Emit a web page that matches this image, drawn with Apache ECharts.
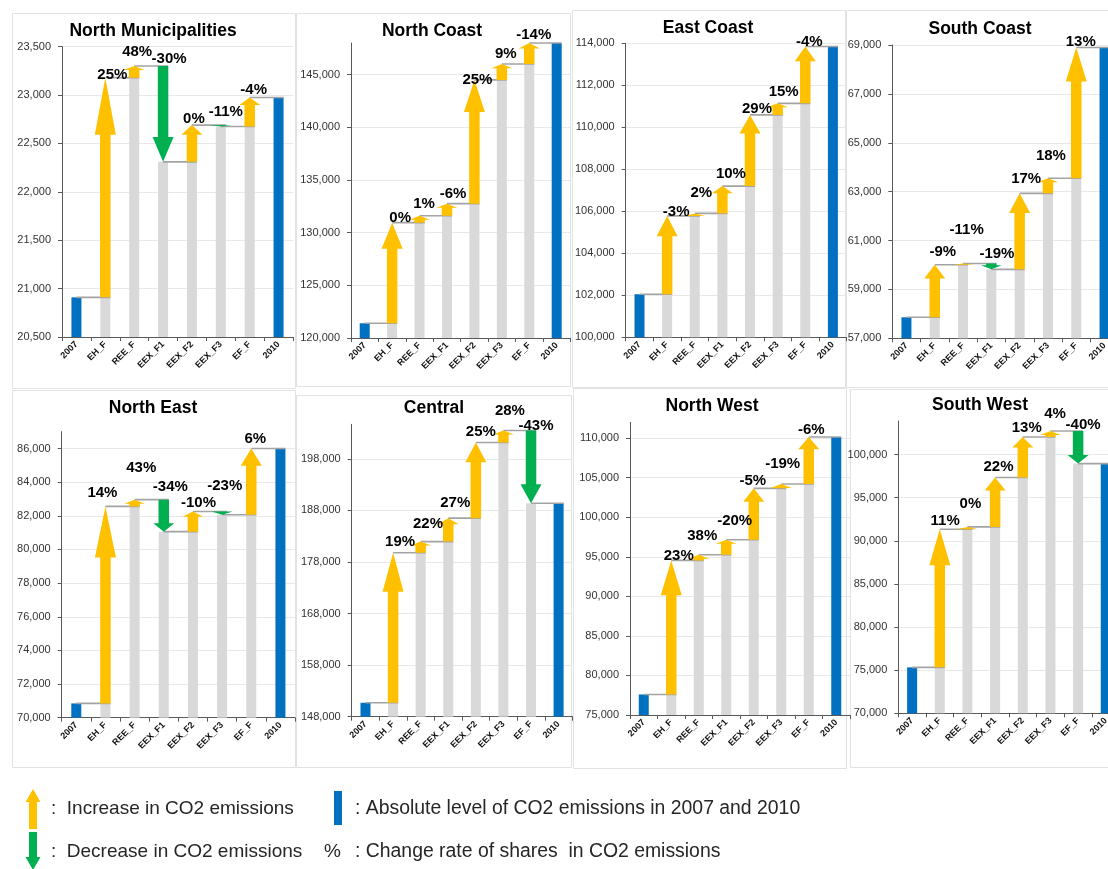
<!DOCTYPE html>
<html>
<head>
<meta charset="utf-8">
<title>CO2 emissions decomposition by region, 2007-2010</title>
<script src="https://cdn.jsdelivr.net/npm/echarts@6/dist/echarts.min.js"></script>
<style>
  html, body { margin: 0; padding: 0; background: #ffffff; overflow: hidden; }
  #chart { width: 1108px; height: 869px; }
</style>
</head>
<body>
<div id="chart"></div>
<script>
// Factor steps between the 2007 and 2010 totals
const categories = ['2007', 'EH_F', 'REE_F', 'EEX_F1', 'EEX_F2', 'EEX_F3', 'EF_F', '2010'];

const regionNames = ['North Municipalities', 'North Coast', 'East Coast', 'South Coast',
                     'North East', 'Central', 'North West', 'South West'];

// Emission level after each step (2007, after each factor, 2010)
const northMunicipalities = [20910, 23180, 23300, 22310, 22690, 22675, 22975, 22975];
const northCoast          = [121400, 130950, 131600, 132750, 144500, 146000, 148000, 148000];
const eastCoast           = [102050, 105780, 105900, 107200, 110590, 111140, 113850, 113850];
const southCoast          = [57860, 60010, 60060, 59820, 62930, 63550, 68900, 68900];
const northEast           = [70850, 82560, 82960, 81060, 82260, 82060, 86000, 86000];
const central             = [150700, 179800, 181950, 186500, 201170, 203500, 189400, 189400];
const northWest           = [77600, 94540, 95250, 97150, 103650, 104200, 110150, 110150];
const southWest           = [75330, 91350, 91620, 97340, 102050, 102740, 98960, 98960];

// Change rate of shares for each factor step
const northMunicipalitiesRates = ['25%', '48%', '-30%', '0%', '-11%', '-4%'];
const northCoastRates          = ['0%', '1%', '-6%', '25%', '9%', '-14%'];
const eastCoastRates           = ['-3%', '2%', '10%', '29%', '15%', '-4%'];
const southCoastRates          = ['-9%', '-11%', '-19%', '17%', '18%', '13%'];
const northEastRates           = ['14%', '43%', '-34%', '-10%', '-23%', '6%'];
const centralRates             = ['19%', '22%', '27%', '25%', '28%', '-43%'];
const northWestRates           = ['23%', '38%', '-20%', '-5%', '-19%', '-6%'];
const southWestRates           = ['11%', '0%', '22%', '13%', '4%', '-40%'];

// Value axis scale per region: [min, max, tick step]
const northMunicipalitiesAxis = [20500, 23500, 500];
const northCoastAxis          = [120000, 148000, 5000];
const eastCoastAxis           = [100000, 114000, 2000];
const southCoastAxis          = [57000, 69000, 2000];
const northEastAxis           = [70000, 87000, 2000];
const centralAxis             = [148000, 204700, 10000];
const northWestAxis           = [75000, 112000, 5000];
const southWestAxis           = [70000, 103900, 5000];

const levelsList = [northMunicipalities, northCoast, eastCoast, southCoast,
                    northEast, central, northWest, southWest];
const ratesList = [northMunicipalitiesRates, northCoastRates, eastCoastRates, southCoastRates,
                   northEastRates, centralRates, northWestRates, southWestRates];
const axisList = [northMunicipalitiesAxis, northCoastAxis, eastCoastAxis, southCoastAxis,
                  northEastAxis, centralAxis, northWestAxis, southWestAxis];

// ---- Layout (pixels) ----
// grid: [left, top, width, height]; the right column runs past the page edge
const panelLayout = [
  { grid: [62.0, 46.7, 231.0, 290.3], title: [153, 31], frame: [12, 13, 283, 375] },
  { grid: [351.0, 43.0, 219.4, 295.0], title: [432, 31], frame: [296, 13, 274, 373] },
  { grid: [625.7, 43.3, 221.0, 294.0], title: [708, 28], frame: [572, 10, 273, 377] },
  { grid: [892.3, 45.0, 226.4, 293.3], title: [980, 29], frame: [846, 10, 270, 377] },
  { grid: [61.7, 431.7, 233.3, 286.0], title: [153, 408], frame: [12, 390, 283, 377] },
  { grid: [351.7, 424.3, 220.7, 292.4], title: [434, 408], frame: [296, 395, 275, 372] },
  { grid: [630.0, 422.3, 220.0, 292.7], title: [712, 406], frame: [573, 388, 273, 380] },
  { grid: [898.3, 421.0, 221.3, 292.3], title: [980, 405], frame: [850, 389, 265, 378] }
];

// Rate label nudges [dx, lift] relative to the top of each step
const labelNudge = [
  [[7, 3], [3, 14.5], [6, 7.5], [2, 6], [5, 13.5], [4, 8]],
  [[8, 5], [4.5, 12], [6, 10], [3, 0], [4, 10], [4.5, 8.5]],
  [[9, 4.5], [6.5, 21], [8.5, 12], [7, 6], [6, 12], [4, 5]],
  [[8, 13], [3.6, 33.5], [5.6, 9.5], [6.5, 15], [3, 22], [4.5, 5.5]],
  [[-3, 14], [6.6, 32], [6.6, 13], [5.6, 9], [2.7, 26], [4, 10]],
  [[7, 11], [7.3, 18], [7, 15], [5, 11], [6.5, 20], [5, 5]],
  [[7.5, 4.5], [3.5, 19], [8.4, 18.7], [-1, 7], [1.4, 20.5], [2.5, 7]],
  [[5.4, 8], [3, 23.4], [3.4, 10.5], [4, 9], [4.6, 17.3], [5, 6.4]]
];

const COLOR_TOTAL = '#0070c0';
const COLOR_BASE = '#d9d9d9';
const COLOR_UP = '#ffc000';
const COLOR_DOWN = '#00b050';
const COLOR_LINK = '#a3a3a3';
const FONT = '"Liberation Sans", Arial, Helvetica, sans-serif';
const BAR_W = 10;

const grids = [], xAxes = [], yAxes = [], series = [], graphics = [];

levelsList.forEach(function (levels, p) {
  const lay = panelLayout[p];
  const ax = axisList[p];
  const rates = ratesList[p];
  const nudges = labelNudge[p];
  const aligned = (ax[1] - ax[0]) % ax[2] === 0;

  grids.push({ left: lay.grid[0], top: lay.grid[1], width: lay.grid[2], height: lay.grid[3],
               outerBoundsMode: 'none', containLabel: false });

  xAxes.push({
    type: 'category', gridIndex: p, data: categories, boundaryGap: true,
    axisLine: { lineStyle: { color: '#595959', width: 1 } },
    axisTick: { show: true, length: 4, lineStyle: { color: '#595959' } },
    axisLabel: { rotate: 45, interval: 0, margin: 6, color: '#111', fontSize: 9,
                 fontWeight: 'bold', fontFamily: FONT }
  });

  yAxes.push({
    type: 'value', gridIndex: p, min: ax[0], max: ax[1], interval: ax[2],
    axisLine: { show: true, lineStyle: { color: '#595959', width: 1 } },
    axisTick: { show: true, length: 4, lineStyle: { color: '#595959' } },
    splitLine: { show: true, showMaxLine: aligned, lineStyle: { color: '#e8e8e8', width: 1 } },
    axisLabel: {
      color: '#333', fontSize: 11, fontFamily: FONT, margin: 11, showMaxLabel: aligned,
      formatter: function (v) {
        return (v - ax[0]) % ax[2] === 0 ? v.toLocaleString('en-US') : '';
      }
    }
  });

  // Base bars: totals in blue, the unchanged part of each step in grey
  const barData = levels.map(function (v, i) {
    if (i === 0 || i === levels.length - 1) {
      return { value: v, itemStyle: { color: COLOR_TOTAL } };
    }
    return { value: Math.min(levels[i - 1], v), itemStyle: { color: COLOR_BASE } };
  });
  series.push({
    type: 'bar', xAxisIndex: p, yAxisIndex: p, data: barData,
    barWidth: BAR_W, z: 2, silent: true, animation: false
  });

  // Connector lines carrying each level over to the next column
  const linkData = [];
  for (let i = 0; i < levels.length - 1; i++) linkData.push([i, levels[i]]);
  series.push({
    type: 'custom', xAxisIndex: p, yAxisIndex: p, data: linkData, z: 3,
    silent: true, animation: false,
    encode: { x: 0, y: 1 },
    renderItem: function (params, api) {
      const i = api.value(0);
      const a = api.coord([i, api.value(1)]);
      const b = api.coord([i + 1, api.value(1)]);
      return {
        type: 'line',
        shape: { x1: a[0], y1: a[1], x2: b[0] + BAR_W / 2, y2: b[1] },
        style: { stroke: COLOR_LINK, lineWidth: 1.6 }
      };
    }
  });

  // Step arrows with their change-rate labels
  const stepData = [];
  for (let i = 1; i < levels.length - 1; i++) stepData.push([i, levels[i - 1], levels[i]]);
  series.push({
    type: 'custom', xAxisIndex: p, yAxisIndex: p, data: stepData, z: 4,
    silent: true, animation: false,
    encode: { x: 0, y: [1, 2] },
    renderItem: function (params, api) {
      const i = api.value(0), from = api.value(1), to = api.value(2);
      const p0 = api.coord([i, from]);
      const p1 = api.coord([i, to]);
      const x = p0[0], y0 = p0[1], y1 = p1[1];
      const len = Math.abs(y1 - y0);
      const dir = y1 < y0 ? -1 : 1;
      const head = Math.max(len * 0.26, Math.min(len, 4));
      const sw = 5.25, hw = 10.5;
      const yb = y1 - dir * head;
      const pts = [[x - sw, y0], [x - sw, yb], [x - hw, yb], [x, y1],
                   [x + hw, yb], [x + sw, yb], [x + sw, y0]];
      const top = api.coord([i, Math.max(from, to)]);
      const nd = nudges[params.dataIndex];
      return {
        type: 'group',
        children: [
          { type: 'polygon', shape: { points: pts },
            style: { fill: to >= from ? COLOR_UP : COLOR_DOWN } },
          { type: 'text', z2: 10,
            style: { text: rates[params.dataIndex], x: top[0] + nd[0], y: top[1] - nd[1],
                     align: 'center', verticalAlign: 'middle', fill: '#000',
                     fontSize: 15, fontWeight: 'bold', fontFamily: FONT } }
        ]
      };
    }
  });

  graphics.push({
    type: 'rect', silent: true, z: -1,
    shape: { x: lay.frame[0] + 0.5, y: lay.frame[1] + 0.5, width: lay.frame[2], height: lay.frame[3] },
    style: { fill: 'none', stroke: '#e2e2e2', lineWidth: 1 }
  });
  graphics.push({
    type: 'text', silent: true, z: 10,
    style: { text: regionNames[p], x: lay.title[0], y: lay.title[1], align: 'center',
             verticalAlign: 'middle', fill: '#000', fontSize: 17.5, fontWeight: 'bold',
             fontFamily: FONT }
  });
});

// Key below the panels
function keyArrow(cx, yTail, yTip, color) {
  const dir = yTip < yTail ? -1 : 1;
  const yb = yTip - dir * 13;
  return {
    type: 'polygon', silent: true,
    shape: { points: [[cx - 4, yTail], [cx - 4, yb], [cx - 7.5, yb], [cx, yTip],
                      [cx + 7.5, yb], [cx + 4, yb], [cx + 4, yTail]] },
    style: { fill: color }
  };
}
function keyText(txt, x, y, size) {
  return {
    type: 'text', silent: true,
    style: { text: txt, x: x, y: y, align: 'left', verticalAlign: 'middle',
             fill: '#262626', fontSize: size || 19, fontFamily: FONT }
  };
}
graphics.push(keyArrow(33, 829, 789, COLOR_UP));
graphics.push(keyText(':  Increase in CO2 emissions', 51, 809));
graphics.push({ type: 'rect', silent: true, shape: { x: 334, y: 791, width: 8, height: 34 },
                style: { fill: COLOR_TOTAL } });
graphics.push(keyText(': Absolute level of CO2 emissions in 2007 and 2010', 355, 809, 19.4));
graphics.push(keyArrow(33, 832, 870, COLOR_DOWN));
graphics.push(keyText(':  Decrease in CO2 emissions', 51, 852));
graphics.push(keyText('%', 324, 852));
graphics.push(keyText(': Change rate of shares  in CO2 emissions', 355, 852, 19.4));

const chart = echarts.init(document.getElementById('chart'), null, { renderer: 'canvas' });
chart.setOption({
  backgroundColor: '#ffffff',
  animation: false,
  grid: grids,
  xAxis: xAxes,
  yAxis: yAxes,
  series: series,
  graphic: graphics
});
</script>
</body>
</html>
